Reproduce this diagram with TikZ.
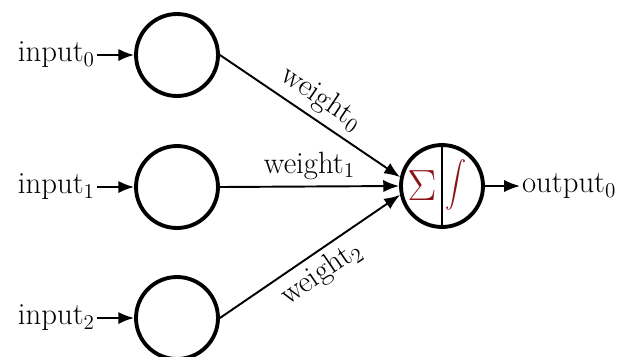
\documentclass[tikz,border=0pt]{standalone}
\usepackage{tikz}
\usetikzlibrary{arrows.meta,positioning,calc}
\definecolor{sumred}{RGB}{140,20,25}

\tikzset{
  neuron/.style={draw, circle, line width=2.2pt, minimum size=1.64cm, inner sep=0pt},
  conn/.style={line width=1.1pt, -{Latex[length=9pt,width=7pt]}},
  lbl/.style={font=\fontsize{17.5}{20}\selectfont}
}

\begin{document}
\begin{tikzpicture}[x=0.02cm, y=-0.02cm]
  \useasboundingbox (0,0) rectangle (622,356);
  % input layer
  \node[neuron] (n0) at (177,55) {};
  \node[neuron] (n1) at (177,187) {};
  \node[neuron] (n2) at (177,318) {};
  \node[lbl, anchor=east, inner xsep=1pt] (in0) at (97,55) {input$_0$};
  \node[lbl, anchor=east, inner xsep=1pt] (in1) at (97,187) {input$_1$};
  \node[lbl, anchor=east, inner xsep=1pt] (in2) at (97,318) {input$_2$};
  \draw[conn] (in0) -- (n0);
  \draw[conn] (in1) -- (n1);
  \draw[conn] (in2) -- (n2);
  % output neuron
  \node[neuron] (out) at (442,186) {};
  \draw[line width=1.1pt] (out.north) -- (out.south);
  \node[text=sumred, font=\fontsize{34}{34}\selectfont] (sum) at (422,186) {$\Sigma$};
  \node[text=sumred, yscale=1.3, xscale=1.2, font=\fontsize{26}{26}\selectfont] (act) at (456,185) {$\displaystyle\int$};
  % weights
  \draw[conn] (n0.east) -- node[lbl, sloped, above, pos=0.5] {weight$_0$} (out.168);
  \draw[conn] (n1.east) -- node[lbl, above, pos=0.5] {weight$_1$} (out.west);
  \draw[conn] (n2.east) -- node[lbl, sloped, below, pos=0.5] {weight$_2$} (out.192);
  \node[lbl, anchor=west, inner xsep=1pt] (res) at (520,186) {output$_0$};
  \draw[conn] (out) -- (res);
\end{tikzpicture}
\end{document}
